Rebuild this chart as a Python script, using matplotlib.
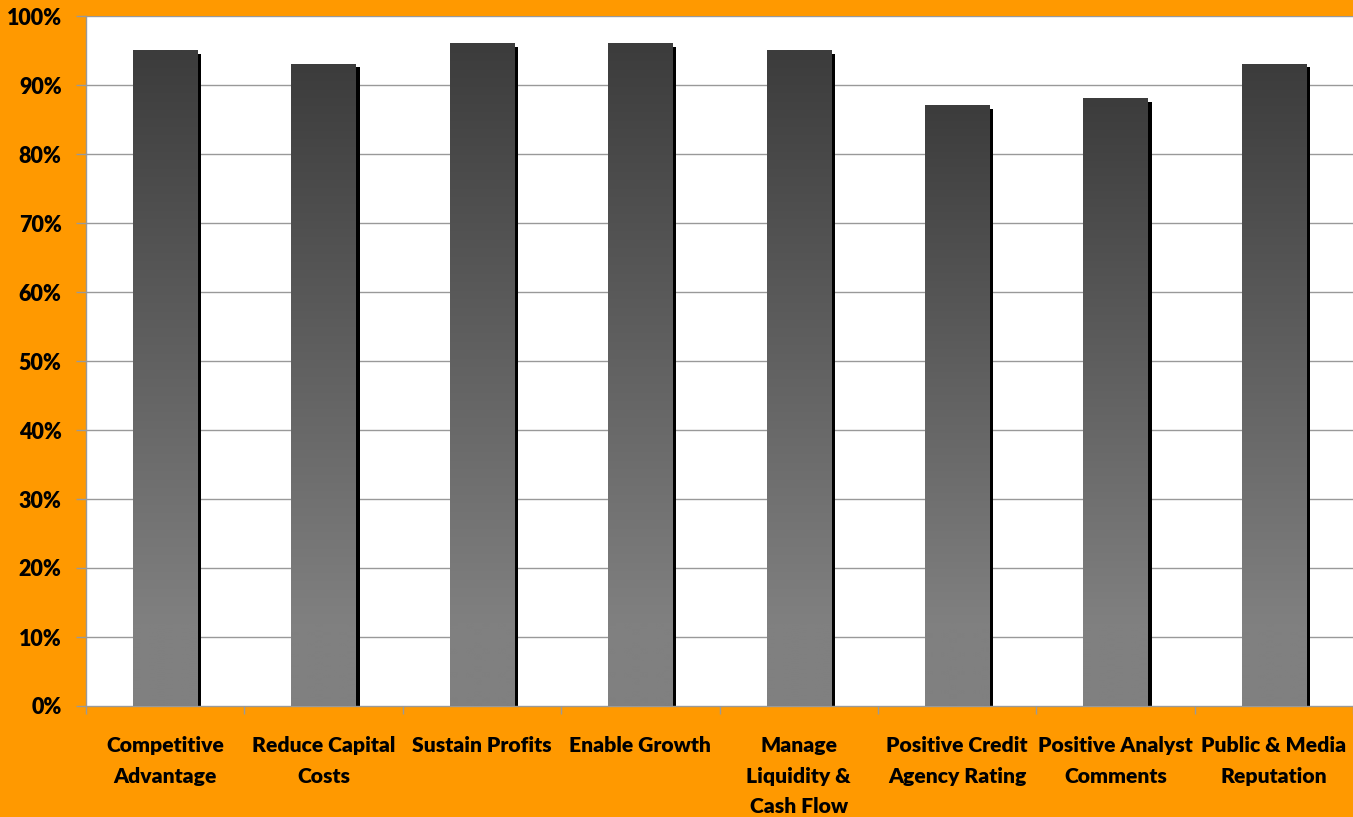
import matplotlib
matplotlib.use("Agg")
import matplotlib.pyplot as plt
import numpy as np
from matplotlib.patches import Rectangle
import matplotlib.transforms as mtransforms
from matplotlib.font_manager import FontProperties

categories = ["Competitive\nAdvantage", "Reduce Capital\nCosts", "Sustain Profits",
              "Enable Growth", "Manage\nLiquidity &\nCash Flow", "Positive Credit\nAgency Rating",
              "Positive Analyst\nComments", "Public & Media\nReputation"]
values = [95, 93, 96, 96, 95, 87, 88, 93]
yticks = [0, 10, 20, 30, 40, 50, 60, 70, 80, 90, 100]
ytick_labels = [f"{v}%" for v in yticks]

ORANGE = "#FF9900"
W, H = 1353, 817
fig = plt.figure(figsize=(W / 100, H / 100), dpi=100, facecolor=ORANGE)
ax = fig.add_axes([86 / W, (H - 706) / H, (W - 86) / W, 690 / H])
ax.set_facecolor("white")

n = len(values)
x = np.arange(n)
bw = 0.405

# gridlines
for v in yticks[1:]:
    ax.axhline(v, color="#999999", lw=1.0, zorder=1)

# shadows
shadow_tr = ax.transData + mtransforms.ScaledTranslation(4 / 100, -3 / 100, fig.dpi_scale_trans)
for xi, v in zip(x, values):
    r = Rectangle((xi - bw / 2, -5), bw, v + 5, facecolor="black", edgecolor="none",
                  transform=shadow_tr, zorder=2)
    r.set_clip_path(ax.patch)
    ax.add_patch(r)

# gradient bars
for xi, v in zip(x, values):
    ys = np.linspace(0, v, 300)
    lo, hi = 128, 60
    t = np.clip((ys - 12) / (v - 12), 0, 1)
    g = (lo + (hi - lo) * t) / 255.0
    img = np.dstack([g, g, g]).reshape(len(g), 1, 3).repeat(2, axis=1)
    ax.imshow(img, extent=(xi - bw / 2, xi + bw / 2, 0, v), origin="lower",
              aspect="auto", zorder=3, interpolation="bilinear")
ax.set_xlim(-0.5, n - 0.5)
ax.set_ylim(0, 100)

# spines
for s in ["top", "right"]:
    ax.spines[s].set_visible(False)
for s in ["left", "bottom"]:
    ax.spines[s].set_color("#999999")
    ax.spines[s].set_linewidth(1.0)

ax.set_yticks(yticks)
ax.set_yticklabels(ytick_labels)
ax.tick_params(axis="y", direction="out", length=7, width=1, color="#999999", pad=10.5)
ax.set_xticks(np.arange(n + 1) - 0.5)
ax.set_xticklabels([])
ax.tick_params(axis="x", direction="out", length=6, width=1, color="#999999")

yfp = FontProperties(family=["Lato", "DejaVu Sans"], weight="heavy", size=15.5)
for lab in ax.get_yticklabels():
    lab.set_fontproperties(yfp)

xfp = FontProperties(family=["Lato", "DejaVu Sans"], weight="heavy", size=15.2)
for xi, c in zip(x, categories):
    ax.text(xi, 0, c, transform=ax.transData + mtransforms.ScaledTranslation(0, -30 / 100, fig.dpi_scale_trans),
            ha="center", va="top", linespacing=1.72, fontproperties=xfp, color="black")

fig.savefig("out.png", dpi=100, facecolor=ORANGE)
